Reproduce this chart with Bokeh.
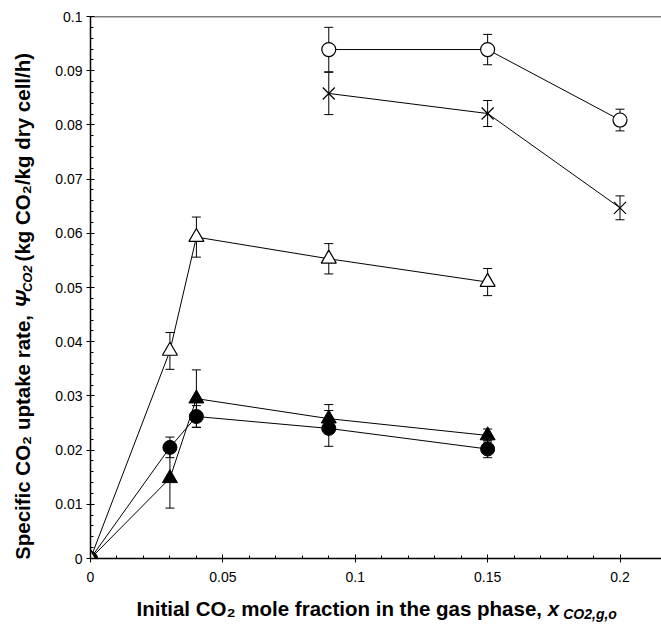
from bokeh.plotting import figure
from bokeh.layouts import column, row
from bokeh.models import Range1d, FixedTicker, Whisker, TeeHead, ColumnDataSource, Span
from bokeh.core.properties import value
from bokeh.embed import file_html
from bokeh.resources import INLINE
import math

# ---------------- data ----------------
x_main = [0.0, 0.03, 0.04, 0.09, 0.15]
open_tri_y = [0.0, 0.0383, 0.0593, 0.0553, 0.0510]
open_tri_err = [0.0, 0.0034, 0.0037, 0.0028, 0.0025]
fill_tri_y = [0.0, 0.0148, 0.0295, 0.0258, 0.0227]
fill_tri_err = [0.0, 0.0055, 0.0053, 0.0026, 0.0012]
fill_circ_y = [0.0, 0.0205, 0.0262, 0.0240, 0.0202]
fill_circ_err = [0.0, 0.0019, 0.0020, 0.0033, 0.0016]

x_high = [0.09, 0.15, 0.20]
open_circ_y = [0.0939, 0.0939, 0.0809]
open_circ_err = [0.0041, 0.0028, 0.0020]
cross_y = [0.0858, 0.0821, 0.0647]
cross_err = [0.0039, 0.0024, 0.0022]

x_ticks = [0.0, 0.05, 0.1, 0.15, 0.2]
x_tick_labels = ["0", "0.05", "0.1", "0.15", "0.2"]
y_ticks = [0.0, 0.01, 0.02, 0.03, 0.04, 0.05, 0.06, 0.07, 0.08, 0.09, 0.1]
y_tick_labels = ["0", "0.01", "0.02", "0.03", "0.04", "0.05", "0.06", "0.07", "0.08", "0.09", "0.1"]

x_title_main = "Initial CO\u2082 mole fraction in the gas phase, "
x_title_var = "x"
x_title_sub = "CO2,g,o"
y_title_main = "Specific CO\u2082 uptake rate, "
y_title_var = "\u03a8"
y_title_sub = "CO2"
y_title_tail = "(kg CO\u2082/kg dry cell/h)"

FONT = "Liberation Sans"

# approximate Arial-bold advance widths (per 1000 em)
W = {' ': 278, 'a': 556, 'b': 611, 'c': 556, 'd': 611, 'e': 556, 'f': 333, 'g': 611, 'h': 611,
     'i': 278, 'j': 278, 'k': 556, 'l': 278, 'm': 889, 'n': 611, 'o': 611, 'p': 611, 'q': 611,
     'r': 389, 's': 556, 't': 333, 'u': 611, 'v': 556, 'w': 778, 'x': 556, 'y': 556, 'z': 500,
     'C': 722, 'O': 778, 'S': 667, 'I': 278, 'P': 667, ',': 278, '(': 333, ')': 333, '/': 278,
     '2': 556, '\u2082': 400, '\u03a8': 780}


def tw(s, size):
    return sum(W.get(ch, 600) for ch in s) * size / 1000.0


# ---------------- layout geometry ----------------
TOTAL_W, TOTAL_H = 661, 624
YT_W = 48            # width of y-title strip
MAIN_H = 596         # height of main plot canvas (and y-title strip)
XT_H = TOTAL_H - MAIN_H
MAIN_W = TOTAL_W - YT_W
BORDER_L = 42        # frame left at page x = 90
BORDER_T = 16        # frame top at page y = 16
FRAME_H = 542
BORDER_B = MAIN_H - BORDER_T - FRAME_H
FRAME_W = MAIN_W - BORDER_L
XMAX = FRAME_W / 2647.5

p = figure(width=MAIN_W, height=MAIN_H, x_range=Range1d(0, XMAX), y_range=Range1d(0, 0.1),
           output_backend="svg", toolbar_location=None,
           min_border_left=BORDER_L, min_border_right=0, min_border_top=BORDER_T,
           min_border_bottom=BORDER_B)
p.grid.visible = False
p.outline_line_color = None
p.background_fill_color = "white"
p.border_fill_color = "white"

for ax, ticks, labels in ((p.xaxis[0], x_ticks, x_tick_labels), (p.yaxis[0], y_ticks, y_tick_labels)):
    minor = []
    for i in range(len(ticks) - 1):
        step = (ticks[i + 1] - ticks[i]) / 5
        minor += [ticks[i] + step * k for k in range(1, 5)]
    ax.ticker = FixedTicker(ticks=ticks, minor_ticks=minor)
    ax.major_label_overrides = {t: l for t, l in zip(ticks, labels)}
    ax.axis_line_color = "black"
    ax.axis_line_width = 1.5
    ax.major_tick_line_color = "black"
    ax.major_tick_line_width = 1
    ax.minor_tick_line_color = "black"
    ax.minor_tick_line_width = 1
    ax.major_tick_in = 4
    ax.major_tick_out = 4
    ax.minor_tick_in = 3
    ax.minor_tick_out = 0
    ax.major_label_text_font = FONT
    ax.major_label_text_font_size = "14px"
    ax.major_label_text_color = "black"

p.xaxis.major_label_standoff = 9
p.yaxis.major_label_standoff = 4

p.add_layout(Span(location=0.1, dimension="width", line_color="black", line_width=1.5))

# connecting lines
for xs, ys in ((x_main, fill_circ_y), (x_main, fill_tri_y), (x_main, open_tri_y),
               (x_high, open_circ_y), (x_high, cross_y)):
    p.line(xs, ys, line_color="black", line_width=1)

# error bars
for xs, ys, es in ((x_main, fill_circ_y, fill_circ_err), (x_main, fill_tri_y, fill_tri_err),
                   (x_main, open_tri_y, open_tri_err), (x_high, open_circ_y, open_circ_err),
                   (x_high, cross_y, cross_err)):
    xx = [a for a, e in zip(xs, es) if e > 0]
    up = [b + e for b, e in zip(ys, es) if e > 0]
    lo = [b - e for b, e in zip(ys, es) if e > 0]
    src = ColumnDataSource(dict(x=xx, upper=up, lower=lo))
    p.add_layout(Whisker(source=src, base="x", upper="upper", lower="lower",
                         line_color="black", line_width=1,
                         upper_head=TeeHead(size=9, line_color="black", line_width=1),
                         lower_head=TeeHead(size=9, line_color="black", line_width=1)))

# markers
p.scatter(x_main, fill_circ_y, marker="circle", size=14, fill_color="black", line_color="black")
p.scatter(x_main, fill_tri_y, marker="triangle", size=15, fill_color="black", line_color="black")
p.scatter(x_main, open_tri_y, marker="triangle", size=15, fill_color="white", line_color="black", line_width=1.2)
p.scatter(x_high, open_circ_y, marker="circle", size=14, fill_color="white", line_color="black", line_width=1.2)
p.scatter(x_high, cross_y, marker="x", size=17, line_color="black", line_width=1.2)


def strip(w, h):
    f = figure(width=w, height=h, x_range=Range1d(0, w), y_range=Range1d(0, h),
               output_backend="svg", toolbar_location=None,
               min_border=0, min_border_left=0, min_border_right=0,
               min_border_top=0, min_border_bottom=0)
    f.axis.visible = False
    f.grid.visible = False
    f.outline_line_color = None
    f.background_fill_color = "white"
    f.border_fill_color = "white"
    return f


def put(f, x, y, s, size, style, angle=0.0, align="left"):
    f.text(x=[x], y=[y], text=[s], text_font=value(FONT), text_font_size=value(size),
           text_font_style=style, text_align=align, text_baseline="middle",
           text_color="black", angle=angle)


TS = 20.5   # title font size (px)

# ---- y title strip (page x 0..48, page y 0..596); data y = 596 - page_y ----
yt = strip(YT_W, MAIN_H)
ang = math.pi / 2
yx = 22
y_var = MAIN_H - 320          # start of the psi symbol (page y 320)
put(yt, yx, y_var - 2, y_title_main, "%.1fpx" % TS, "bold", ang, "right")
put(yt, yx, y_var, y_title_var, "%.1fpx" % TS, "bold italic", ang)
ysub = y_var + tw(y_title_var, TS) + 1
put(yt, yx + 5, ysub, y_title_sub, "13px", "bold italic", ang)
ytail = ysub + tw(y_title_sub, 13) + 7
put(yt, yx, ytail, y_title_tail, "%.1fpx" % TS, "bold", ang)

# ---- x title strip (page x 0..661, page y 596..624); data y = 624 - page_y ----
xt = strip(TOTAL_W, XT_H)
xx0 = 136
xy = TOTAL_H - 608
put(xt, xx0, xy, x_title_main, "%.1fpx" % TS, "bold")
xv = xx0 + tw(x_title_main, TS) + 1
put(xt, xv, xy, x_title_var, "%.1fpx" % TS, "bold italic")
put(xt, xv + tw(x_title_var, TS) + 4, xy - 5, x_title_sub, "14px", "bold italic")

layout = column(row(yt, p, spacing=0), xt, spacing=0)
open("out.html", "w").write(file_html(layout, INLINE))
